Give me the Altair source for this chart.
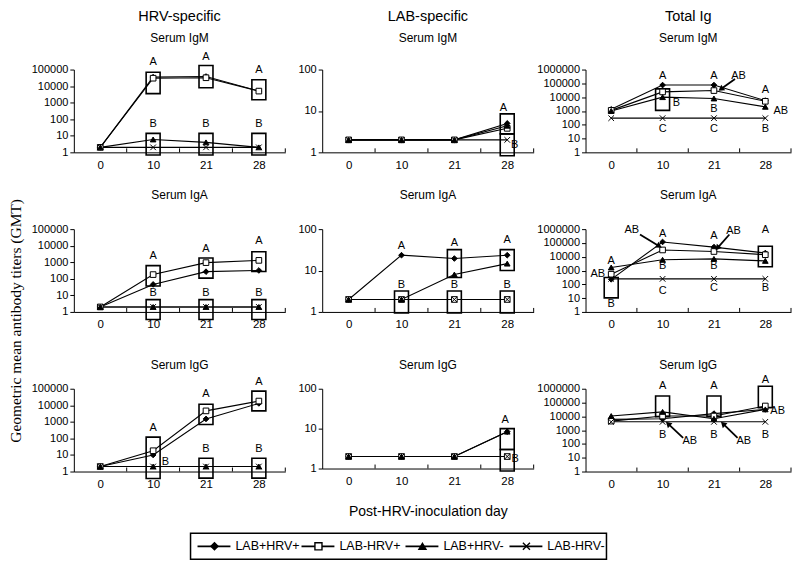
import math
import altair as alt
import pandas as pd

DAYS = ["0", "10", "21", "28"]
SERIES = ["LAB+HRV+", "LAB-HRV+", "LAB+HRV-", "LAB-HRV-"]
SHAPES = ["diamond", "square", "triangle-up", "M-1,-1L1,1M-1,1L1,-1"]
FILLS = ["black", "white", "black", "black"]
TICK_BOUNDS = [0.5, 1.5, 2.5, 3.5]

# values per series (order of SERIES) at days 0, 10, 21, 28
hrv_igm = [[2, 35000, 38000, 5000], [2, 30000, 32000, 5000], [2, 6, 4, 2], [2, 2, 2, 2]]
hrv_iga = [[2, 46, 270, 320], [2, 180, 950, 1300], [2, 2, 2, 2], [2, 2, 2, 2]]
hrv_igg = [[2, 10, 1500, 13000], [2, 18, 4600, 18000], [2, 2, 2, 2], [2, 2, 2, 2]]
lab_igm = [[2, 2, 2, 5], [2, 2, 2, 3.8], [2, 2, 2, 4.4], [2, 2, 2, 2]]
lab_iga = [[2, 23.5, 19.5, 23.5], [2, 2, 2, 2], [2, 2, 8, 14.7], [2, 2, 2, 2]]
lab_igg = [[2, 2, 2, 8.4], [2, 2, 2, 2], [2, 2, 2, 8.4], [2, 2, 2, 2]]
tot_igm = [[1300, 75000, 75000, 5600], [1100, 24000, 30000, 5000], [1000, 10000, 8000, 2000], [300, 300, 300, 300]]
tot_iga = [[230, 118000, 50000, 18600], [540, 31000, 24000, 14000], [1660, 6000, 7000, 5000], [250, 250, 250, 250]]
tot_igg = [[6000, 6700, 15800, 32000], [4500, 10500, 10500, 56000], [10500, 21000, 6700, 32000], [4000, 4000, 4000, 4000]]

# significance boxes: (day index, low, high)
hrv_igm_boxes = [(1, 3500, 69000), (1, 0.69, 14), (2, 8000, 174000), (2, 0.69, 14), (3, 1500, 24000), (3, 0.69, 14)]
hrv_iga_boxes = [(1, 37, 630), (1, 0.35, 5.5), (2, 110, 1800), (2, 0.35, 5.5), (3, 275, 4300), (3, 0.35, 5.5)]
hrv_igg_boxes = [(1, 0.38, 120), (2, 690, 11500), (2, 0.4, 6.3), (3, 4600, 72000), (3, 0.4, 6.3)]
lab_igm_boxes = [(3, 2.8, 8.5), (3, 0.83, 2.8)]
lab_iga_boxes = [(1, 0.95, 3.2), (2, 6.8, 32), (2, 0.95, 3.2), (3, 10, 32), (3, 0.95, 3.2)]
lab_igg_boxes = [(3, 3, 10), (3, 0.87, 3)]
tot_igm_boxes = [(1, 1100, 40000)]
tot_iga_boxes = [(0, 10.5, 310), (3, 1860, 57000)]
tot_igg_boxes = [(1, 9500, 300000), (2, 9500, 300000), (3, 43000, 1500000)]

# letters: (x position in day index, value, text)
hrv_igm_letters = [(1, 275000, "A"), (2, 550000, "A"), (3, 95000, "A"), (1, 50, "B"), (2, 50, "B"), (3, 50, "B")]
hrv_iga_letters = [(1, 2400, "A"), (2, 6200, "A"), (3, 18000, "A"), (1, 13, "B"), (2, 13, "B"), (3, 13, "B")]
hrv_igg_letters = [(1, 400, "A"), (1.23, 4, "B"), (2, 46000, "A"), (2, 23, "B"), (3, 250000, "A"), (3, 23, "B")]
lab_igm_letters = [(2.93, 12, "A"), (3.14, 1.5, "B")]
lab_iga_letters = [(1, 39, "A"), (1, 4.5, "B"), (2, 45, "A"), (2, 4.5, "B"), (3, 54, "A"), (3, 4.5, "B")]
lab_igg_letters = [(2.96, 16, "A"), (3.15, 1.75, "B")]
tot_igm_letters = [(1, 316000, "A"), (2, 316000, "A"), (2, 1300, "B"), (3, 35000, "A"), (3.3, 1000, "AB"),
                   (1, 50, "C"), (2, 50, "C"), (3, 50, "B"), (1.27, 4000, "B"), (2.48, 355000, "AB")]
tot_iga_letters = [(0, 5100, "A"), (-0.26, 540, "AB"), (0, 3.6, "B"), (1, 460000, "A"), (1, 2200, "B"),
                   (1, 32, "C"), (2, 345000, "A"), (2, 2200, "B"), (2, 50, "C"), (3, 850000, "A"),
                   (3, 57, "B"), (0.4, 800000, "AB"), (2.38, 700000, "AB")]
tot_igg_letters = [(1, 1500000, "A"), (2, 1500000, "A"), (3, 4600000, "A"), (1, 480, "B"), (2, 480, "B"),
                   (3, 480, "B"), (3.24, 24500, "AB"), (1.53, 160, "AB"), (2.58, 160, "AB")]

# arrows: (tail x, tail value, head x, head value)
tot_igm_arrows = [(2.41, 210000, 2.15, 42000)]
tot_iga_arrows = [(0.56, 407000, 0.92, 63000), (2.3, 407000, 2.08, 48000)]
tot_igg_arrows = [(1.4, 275, 1.12, 2600), (2.46, 275, 2.19, 2600)]

FONT = "Liberation Sans"
SERIF = "Liberation Serif"
YTITLE = "Geometric mean antibody titers (GMT)"
XTITLE = "Post-HRV-inoculation day"
LABEL_EXPR = "[" + ",".join("'%s'" % d for d in DAYS) + "][datum.value]"


def panel(values, boxes, letters, arrows, top, W, H, title, gap, ext,
          subtitle=None, xtitle=None):
    nd = int(round(math.log10(top)))
    decades = [10 ** k for k in range(nd + 1)]
    xs = alt.Scale(domain=[-0.5, 3.5], nice=False, zero=False)
    ys = alt.Scale(type="log", domain=[1, top], nice=False)
    xaxis = alt.Axis(values=[0, 1, 2, 3], labelExpr=LABEL_EXPR, ticks=False, grid=False,
                     domainColor="black", labelColor="black", labelFont=FONT, labelFontSize=11.5,
                     labelPadding=7, titleFont=FONT, titleFontSize=14, titleFontWeight="normal",
                     titleColor="black", titlePadding=18)
    yaxis = alt.Axis(values=decades, format="d", tickSize=4, tickColor="black", domainColor="black",
                     labelColor="black", labelFont=FONT, labelFontSize=11, labelPadding=2, grid=False,
                     minExtent=ext)

    def X(f):
        return alt.X(f"{f}:Q", scale=xs, axis=xaxis, title=xtitle)

    def Y(f):
        return alt.Y(f"{f}:Q", scale=ys, axis=yaxis, title=None)

    def ypix(v):
        return H * (1 - math.log10(v) / math.log10(top))

    def xpix(x):
        return (x + 0.5) / 4 * W

    line_df = pd.DataFrame([{"series": s, "idx": i, "v": values[k][i]}
                            for k, s in enumerate(SERIES) for i in range(4)])
    layers = []
    layers.append(alt.Chart(line_df).mark_line(color="black", strokeWidth=1.1).encode(
        x=X("idx"), y=Y("v"), detail="series:N", order="idx:Q"))
    tick_df = pd.DataFrame({"t": TICK_BOUNDS})
    layers.append(alt.Chart(tick_df).mark_rule(color="black", strokeWidth=1).encode(
        x=X("t"), y=alt.value(H), y2=alt.value(H - 4)))
    box_df = pd.DataFrame(boxes, columns=["bx", "blo", "bhi"])
    layers.append(alt.Chart(box_df).mark_rect(color="black", fillOpacity=0, stroke="black",
                                              strokeWidth=1.6, xOffset=-7, x2Offset=7).encode(
        x=X("bx"), x2=alt.X2("bx"), y=Y("blo"), y2=alt.Y2("bhi")))
    layers.append(alt.Chart(line_df).mark_point(color="black", strokeWidth=1, size=32, opacity=1,
                                                fillOpacity=1).encode(
        x=X("idx"), y=Y("v"),
        shape=alt.Shape("series:N", scale=alt.Scale(domain=SERIES, range=SHAPES), legend=None),
        fill=alt.Fill("series:N", scale=alt.Scale(domain=SERIES, range=FILLS), legend=None)))
    let_df = pd.DataFrame(letters, columns=["lx", "lv", "lt"])
    layers.append(alt.Chart(let_df).mark_text(font=FONT, fontSize=11, color="black",
                                              baseline="middle", align="center").encode(
        x=X("lx"), y=Y("lv"), text="lt:N"))
    cand = [6]
    for (x, v, t) in letters:
        cand.append(-ypix(v) + 6)
    for (x, lo, hi) in boxes:
        cand.append(-ypix(hi) + 1)
    if arrows:
        rows = []
        for (x1, v1, x2, v2) in arrows:
            dx = xpix(x2) - xpix(x1)
            dy = ypix(v2) - ypix(v1)
            ang = (math.degrees(math.atan2(dx, -dy)) + 360) % 360
            rows.append({"ax1": x1, "av1": v1, "ax2": x2, "av2": v2, "ang": ang})
            cand.append(-ypix(v1) + 1)
        arr_df = pd.DataFrame(rows)
        layers.append(alt.Chart(arr_df).mark_rule(color="black", strokeWidth=1.8).encode(
            x=X("ax1"), y=Y("av1"), x2=alt.X2("ax2"), y2=alt.Y2("av2")))
        layers.append(alt.Chart(arr_df).mark_point(shape="triangle", filled=True, color="black",
                                                   size=45, opacity=1).encode(
            x=X("ax2"), y=Y("av2"), angle=alt.Angle("ang:Q", scale=None)))
    above = max(cand)
    off = gap - 6 - above
    if subtitle:
        tp = alt.TitleParams(text=title, subtitle=subtitle, font=FONT, fontSize=14.5,
                             fontWeight="normal", color="black", subtitleFont=FONT,
                             subtitleFontSize=12, subtitleColor="black", subtitlePadding=8,
                             anchor="middle", frame="group", offset=off)
    else:
        tp = alt.TitleParams(text=title, font=FONT, fontSize=12, fontWeight="normal",
                             color="black", anchor="middle", frame="group", offset=off)
    return alt.layer(*layers).properties(width=W, height=H, title=tp)


W1, W2, W3 = 212, 212, 206
H = 83
VS = 77

col1 = alt.vconcat(
    panel(hrv_igm, hrv_igm_boxes, hrv_igm_letters, [], 1e5, W1, H, "HRV-specific", 31, 43, subtitle="Serum IgM"),
    panel(hrv_iga, hrv_iga_boxes, hrv_iga_letters, [], 1e5, W1, H, "Serum IgA", 33, 43),
    panel(hrv_igg, hrv_igg_boxes, hrv_igg_letters, [], 1e5, W1, H, "Serum IgG", 23, 43),
    spacing=VS, bounds="flush")
col2 = alt.vconcat(
    panel(lab_igm, lab_igm_boxes, lab_igm_letters, [], 100, W2, H, "LAB-specific", 31, 36, subtitle="Serum IgM"),
    panel(lab_iga, lab_iga_boxes, lab_iga_letters, [], 100, W2, H, "Serum IgA", 33, 36),
    panel(lab_igg, lab_igg_boxes, lab_igg_letters, [], 100, W2, 80, "Serum IgG", 23, 36, xtitle=XTITLE),
    spacing=VS, bounds="flush")
col3 = alt.vconcat(
    panel(tot_igm, tot_igm_boxes, tot_igm_letters, tot_igm_arrows, 1e6, W3, H, "Total Ig", 31, 51, subtitle="Serum IgM"),
    panel(tot_iga, tot_iga_boxes, tot_iga_letters, tot_iga_arrows, 1e6, W3, H, "Serum IgA", 33, 51),
    panel(tot_igg, tot_igg_boxes, tot_igg_letters, tot_igg_arrows, 1e6, W3, H, "Serum IgG", 23, 51),
    spacing=VS, bounds="flush")

# rotated shared y-axis title
ytitle_chart = alt.Chart(pd.DataFrame({"t": [YTITLE]})).mark_text(
    angle=270, font=SERIF, fontSize=15.5, color="black", baseline="middle", align="center"
).encode(text="t:N", x=alt.value(6), y=alt.value(252)).properties(width=21, height=400)

grid = alt.hconcat(ytitle_chart, col1, col2, col3, spacing=0)

legend_df = pd.DataFrame({"series": SERIES})
arr_js = "[" + ",".join("'%s'" % s for s in SERIES) + "]"
lx = alt.X("idx:Q", scale=alt.Scale(domain=[0, 4], nice=False, zero=False), axis=None)
lbase = alt.Chart(legend_df).transform_calculate(idx=f"indexof({arr_js}, datum.series)")
legend = alt.layer(
    lbase.mark_rule(color="black", strokeWidth=1.8, xOffset=7, x2Offset=40).encode(
        x=lx, x2=alt.X2("idx"), y=alt.value(13)),
    lbase.mark_point(color="black", strokeWidth=1.4, size=50, opacity=1, fillOpacity=1, xOffset=24).encode(
        x=lx, y=alt.value(13),
        shape=alt.Shape("series:N", scale=alt.Scale(domain=SERIES, range=SHAPES), legend=None),
        fill=alt.Fill("series:N", scale=alt.Scale(domain=SERIES, range=FILLS), legend=None)),
    lbase.mark_text(align="left", baseline="middle", font=FONT, fontSize=12.5, color="black", xOffset=45).encode(
        x=lx, y=alt.value(13), text="series:N"),
).properties(width=417, height=26, view=alt.ViewBackground(stroke="black", strokeWidth=1.5))

spacer = alt.Chart(pd.DataFrame({"s": [0]})).mark_rule(opacity=0).encode(
    x=alt.value(0), y=alt.value(0), y2=alt.value(1)).properties(width=180, height=26)

legend_row = alt.hconcat(spacer, legend, spacing=0)

chart = alt.vconcat(grid, legend_row, spacing=13).properties(
    padding={"left": 0, "top": 0, "right": 0, "bottom": 0}, background="white"
).configure_view(strokeWidth=0).resolve_scale(shape="independent", fill="independent")

chart.save("out.html", embed_options={"renderer": "svg", "actions": False})
